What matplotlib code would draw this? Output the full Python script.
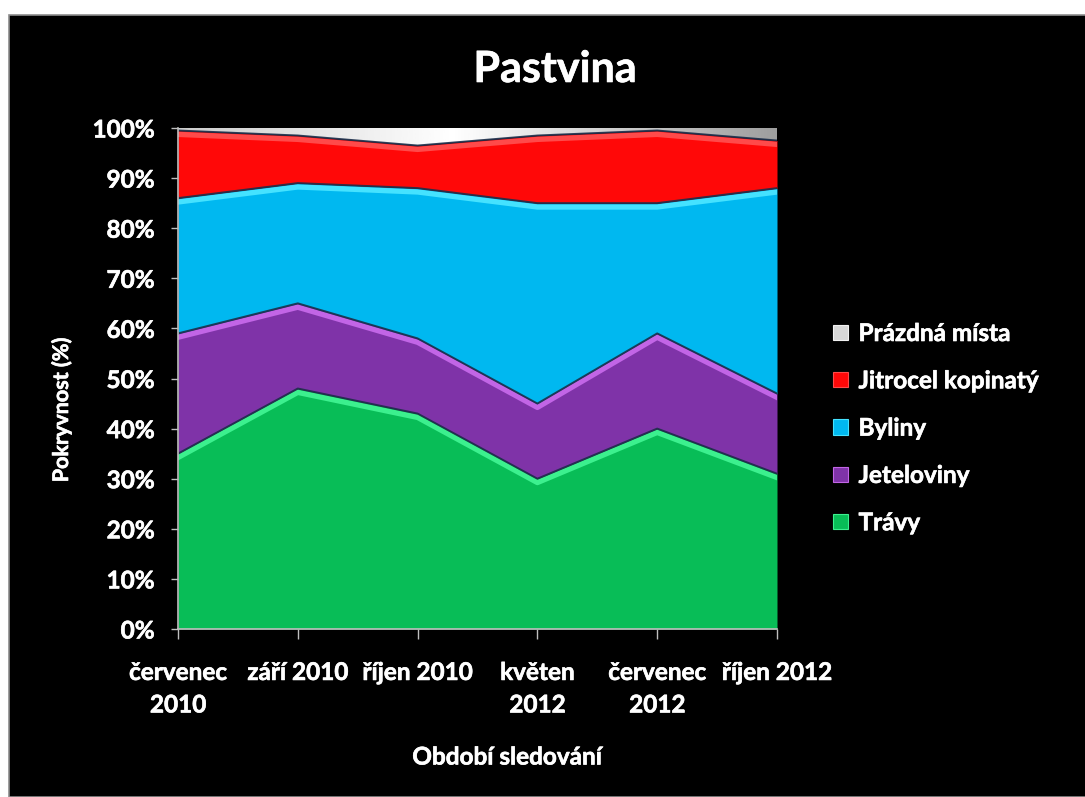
import numpy as np
import matplotlib
matplotlib.use("Agg")
import matplotlib.pyplot as plt
import matplotlib.patheffects as pe
import matplotlib.ticker as mticker
from matplotlib.patches import Patch, Rectangle
from matplotlib.colors import LinearSegmentedColormap

# Podíl pokryvnosti (%) v jednotlivých obdobích sledování
periods = ["červenec\n2010", "září 2010", "říjen 2010", "květen\n2012", "červenec\n2012", "říjen 2012"]
travy = [35, 48, 43, 30, 40, 31]
jeteloviny = [24, 17, 15, 15, 19, 16]
byliny = [27, 24, 30, 40, 26, 41]
jitrocel = [13.5, 9.5, 8.5, 13.5, 14.5, 9.5]
prazdna = [0.5, 1.5, 3.5, 1.5, 0.5, 2.5]

series_names = ["Trávy", "Jeteloviny", "Byliny", "Jitrocel kopinatý", "Prázdná místa"]
series_values = [travy, jeteloviny, byliny, jitrocel, prazdna]

FILL_COLORS = ["#08BD57", "#7F33A8", "#00B8F0", "#FF0808", "#D8D8D8"]
EDGE_HIGHLIGHT = ["#3CF08E", "#C265E6", "#45E2FF", "#FF4A4A", "#F2F2F2"]
EDGE_SHADOW = "#1C2E4A"

W, H = 1085, 797
TICK_SIZE = 17.5
# slightly heavier white glyphs on the black slide
THICK = [pe.withStroke(linewidth=0.45, foreground="white")]

plt.rcParams["font.family"] = ["Lato", "DejaVu Sans"]
plt.rcParams["font.weight"] = "bold"

fig = plt.figure(figsize=(W / 100, H / 100), dpi=100, facecolor="white")

# black slide background with a thin grey rim
fig.patches.append(Rectangle((9 / W, 0), 1, (H - 15) / H, transform=fig.transFigure,
                             facecolor="black", edgecolor="#8C8C8C", lw=1.2, zorder=-10))

ax = fig.add_axes([178 / W, 1 - 629 / H, (777 - 178) / W, (629 - 128) / H])
ax.set_facecolor("black")

x = np.arange(len(periods))
vals = np.array(series_values, dtype=float)
shares = vals / vals.sum(axis=0) * 100.0

bottom = np.zeros(len(periods))
for i, name in enumerate(series_names):
    top = bottom + shares[i]
    if i == len(series_names) - 1:
        # empty patches get a soft grey-white gradient
        poly = ax.fill_between(x, bottom, top, facecolor="none", lw=0, zorder=2)
        grad = np.interp(np.linspace(0, 5, 200), [0, 2.3, 5], [0.80, 1.0, 0.62])[None, :]
        cmap = LinearSegmentedColormap.from_list("grey", ["#000000", "#FFFFFF"])
        im = ax.imshow(grad, extent=[0, 5, 0, 100], aspect="auto", cmap=cmap,
                       vmin=0, vmax=1, zorder=2, interpolation="bilinear")
        im.set_clip_path(poly.get_paths()[0], transform=ax.transData)
    else:
        ax.fill_between(x, bottom, top, color=FILL_COLORS[i], lw=0, zorder=2)
    bottom = top

# bevelled edges: light rim under a dark shadow line on each boundary
bottom = np.zeros(len(periods))
for i, name in enumerate(series_names[:-1]):
    top = bottom + shares[i]
    ax.plot(x, top, color=EDGE_SHADOW, lw=1.4, alpha=0.9, zorder=3,
            solid_joinstyle="round",
            path_effects=[pe.Stroke(offset=(0, -2.8), linewidth=3.8, foreground=EDGE_HIGHLIGHT[i]),
                          pe.Normal()])
    bottom = top

ax.set_xlim(0, len(periods) - 1)
ax.set_ylim(0, 100)
ax.set_xticks(x)
ax.set_xticklabels(periods, linespacing=1.5)
ax.set_yticks(np.arange(0, 101, 10))
ax.yaxis.set_major_formatter(mticker.PercentFormatter(xmax=100, decimals=0))

for side in ["top", "right"]:
    ax.spines[side].set_visible(False)
for side in ["left", "bottom"]:
    ax.spines[side].set_color("#BFBFBF")
    ax.spines[side].set_linewidth(1.2)
    ax.spines[side].set_zorder(4)

ax.tick_params(axis="y", direction="out", length=5, width=1, color="#BFBFBF",
               labelcolor="white", labelsize=TICK_SIZE, pad=12)
ax.tick_params(axis="x", direction="out", length=7, width=1, color="#BFBFBF",
               labelcolor="white", labelsize=TICK_SIZE, pad=16)
for lbl in ax.get_xticklabels() + ax.get_yticklabels():
    lbl.set_path_effects(THICK)

fig.text(555 / W, 1 - 82 / H, "Pastvina", ha="center", va="baseline",
         fontsize=31, fontweight="bold", color="white", path_effects=THICK)
fig.text(61 / W, 1 - 410 / H, "Pokryvnost (%)", ha="center", va="center", rotation=90,
         fontsize=15.5, fontweight="bold", color="white", path_effects=THICK)
fig.text(507 / W, 1 - 757 / H, "Období sledování", ha="center", va="center",
         fontsize=TICK_SIZE, fontweight="bold", color="white", path_effects=THICK)

handles = [Patch(facecolor=FILL_COLORS[i], edgecolor=EDGE_HIGHLIGHT[i], lw=0.8,
                 label=series_names[i]) for i in range(len(series_names) - 1, -1, -1)]
leg = fig.legend(handles=handles, loc="upper left", bbox_to_anchor=(833 / W, 1 - 322 / H),
                 frameon=False, fontsize=TICK_SIZE, labelcolor="white",
                 handlelength=0.6, handleheight=0.6, handletextpad=0.45,
                 labelspacing=1.0, borderaxespad=0, borderpad=0)
for txt in leg.get_texts():
    txt.set_path_effects(THICK)

fig.savefig("out.png", dpi=100, facecolor=fig.get_facecolor())
